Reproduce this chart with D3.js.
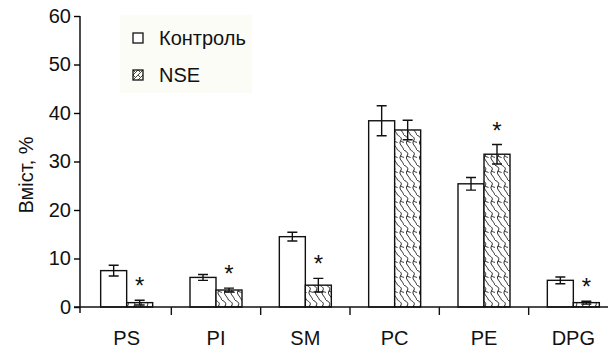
<!DOCTYPE html>
<html>
<head>
<meta charset="utf-8">
<script src="https://cdn.jsdelivr.net/npm/d3@7"></script>
<style>
  body { margin: 0; background: #fff; }
  svg { display: block; font-family: "Liberation Sans", Arial, sans-serif; }
</style>
</head>
<body>
<svg id="chart"></svg>
<script>
let categories = ["PS", "PI", "SM", "PC", "PE", "DPG"];
let controlValues = [7.5, 6.1, 14.5, 38.4, 25.4, 5.5];
let controlErrors = [1.1, 0.6, 0.9, 3.1, 1.3, 0.7];
let nseValues = [0.9, 3.5, 4.5, 36.5, 31.5, 0.9];
let nseErrors = [0.5, 0.4, 1.4, 2.0, 2.0, 0.3];
let significant = [true, true, true, false, true, true];
let yTicks = [0, 10, 20, 30, 40, 50, 60];
let seriesNames = ["Контроль", "NSE"];
let yTitle = "Вміст, %";

let width = 608;
let height = 348;
let axisX = 80;
let barW = 26;

let svg = d3.select("#chart").attr("width", width).attr("height", height);

let xScale = d3.scaleBand().domain(categories).range([82, 618]);
let yScale = d3.scaleLinear().domain([0, 60]).range([307, 16]);

// hatch pattern for NSE bars
let defs = svg.append("defs");
let pat = defs.append("pattern")
  .attr("id", "wave")
  .attr("patternUnits", "userSpaceOnUse")
  .attr("width", 13)
  .attr("height", 15)
  .attr("x", 1).attr("y", 0);
pat.append("rect").attr("width", 13).attr("height", 15).attr("fill", "#fff");
pat.append("path")
  .attr("d", "M0,0 C3,2 5,3 3,6 C1,9 5,11 6.5,15 M6.5,0 C9.5,2 11.5,3 9.5,6 C7.5,9 11.5,11 13,15 M3,6 C4.5,7 5.5,7 6.5,7.5 M9.5,6 C11,7 12,7 13,7.5 M0,7.5 L-1,7")
  .attr("fill", "none")
  .attr("stroke", "#222")
  .attr("stroke-width", 1);

let legendPat = defs.append("pattern")
  .attr("id", "wave-small")
  .attr("patternUnits", "userSpaceOnUse")
  .attr("width", 5).attr("height", 5);
legendPat.append("path")
  .attr("d", "M0,5 L5,0 M0,0 L2,2")
  .attr("stroke", "#333").attr("stroke-width", 0.9);

let drawBars = () => {
  let groups = svg.selectAll(".cat")
    .data(categories)
    .enter()
    .append("g")
    .attr("class", "cat");

  let series = [
    { vals: controlValues, errs: controlErrors, fill: "#fff", off: -barW },
    { vals: nseValues, errs: nseErrors, fill: "url(#wave)", off: 0 }
  ];

  series.forEach((s) => {
    groups.append("rect")
      .attr("x", (d) => xScale(d) + xScale.bandwidth() / 2 + s.off)
      .attr("y", (d, i) => yScale(s.vals[i]))
      .attr("width", barW)
      .attr("height", (d, i) => yScale(0) - yScale(s.vals[i]))
      .attr("fill", s.fill)
      .attr("stroke", "#111")
      .attr("stroke-width", 1.4);

    // error bars
    let cx = (d) => xScale(d) + xScale.bandwidth() / 2 + s.off + barW / 2;
    groups.append("path")
      .attr("d", (d, i) => {
        let x = cx(d);
        let y1 = yScale(s.vals[i] + s.errs[i]);
        let y2 = yScale(s.vals[i] - s.errs[i]);
        return "M" + (x - 5) + "," + y1 + "H" + (x + 5) +
          "M" + x + "," + y1 + "V" + y2 +
          "M" + (x - 5) + "," + y2 + "H" + (x + 5);
      })
      .attr("fill", "none")
      .attr("stroke", "#111")
      .attr("stroke-width", 1.4);
  });

  // significance marks
  groups.filter((d, i) => significant[i])
    .append("text")
    .attr("x", (d) => xScale(d) + xScale.bandwidth() / 2 + barW / 2)
    .attr("y", (d) => {
      let i = categories.indexOf(d);
      return yScale(nseValues[i] + nseErrors[i]) - 6;
    })
    .attr("text-anchor", "middle")
    .style("font-size", "24px")
    .attr("fill", "#111")
    .text("*");
};

let drawAxes = () => {
  let yAxis = d3.axisLeft(yScale).tickValues(yTicks).tickSize(6).tickPadding(3);
  let gy = svg.append("g")
    .attr("transform", "translate(" + axisX + ",0)")
    .call(yAxis);
  gy.select(".domain").attr("d", "M0," + yScale(60) + "V313").attr("stroke-width", 1.4);
  gy.selectAll(".tick line").attr("stroke-width", 1.4);
  gy.selectAll(".tick text").style("font-size", "20px").attr("fill", "#111");

  // x axis line
  svg.append("line")
    .attr("x1", axisX - 6).attr("x2", 618)
    .attr("y1", yScale(0)).attr("y2", yScale(0))
    .attr("stroke", "#111").attr("stroke-width", 1.4);

  // ticks between categories
  svg.selectAll(".xtick")
    .data(categories.slice(1))
    .enter()
    .append("line")
    .attr("class", "xtick")
    .attr("x1", (d) => xScale(d)).attr("x2", (d) => xScale(d))
    .attr("y1", yScale(0)).attr("y2", yScale(0) + 8)
    .attr("stroke", "#111").attr("stroke-width", 1.4);

  let xAxis = d3.axisBottom(xScale).tickSize(0).tickPadding(24);
  let gx = svg.append("g")
    .attr("transform", "translate(0," + yScale(0) + ")")
    .call(xAxis);
  gx.select(".domain").remove();
  gx.selectAll(".tick text").style("font-size", "20px").attr("fill", "#111");

  svg.append("text")
    .attr("transform", "translate(33," + 175 + ") rotate(-90)")
    .attr("text-anchor", "middle")
    .style("font-size", "20px")
    .attr("fill", "#111")
    .text(yTitle);
};

let drawLegend = () => {
  svg.append("rect")
    .attr("x", 120).attr("y", 15).attr("width", 132).attr("height", 78)
    .attr("fill", "#fcfcf6");
  let lg = svg.selectAll(".leg")
    .data(seriesNames)
    .enter()
    .append("g")
    .attr("class", "leg")
    .attr("transform", (d, i) => "translate(133," + (38 + i * 37) + ")");
  lg.append("rect")
    .attr("x", 0).attr("y", -5).attr("width", 10).attr("height", 10)
    .attr("fill", (d, i) => i === 0 ? "#fff" : "url(#wave-small)")
    .attr("stroke", "#111").attr("stroke-width", 1.3);
  lg.append("text")
    .attr("x", 26).attr("dy", "0.35em")
    .style("font-size", "20px")
    .attr("fill", "#111")
    .text((d) => d);
};

drawBars();
drawAxes();
drawLegend();
</script>
</body>
</html>
